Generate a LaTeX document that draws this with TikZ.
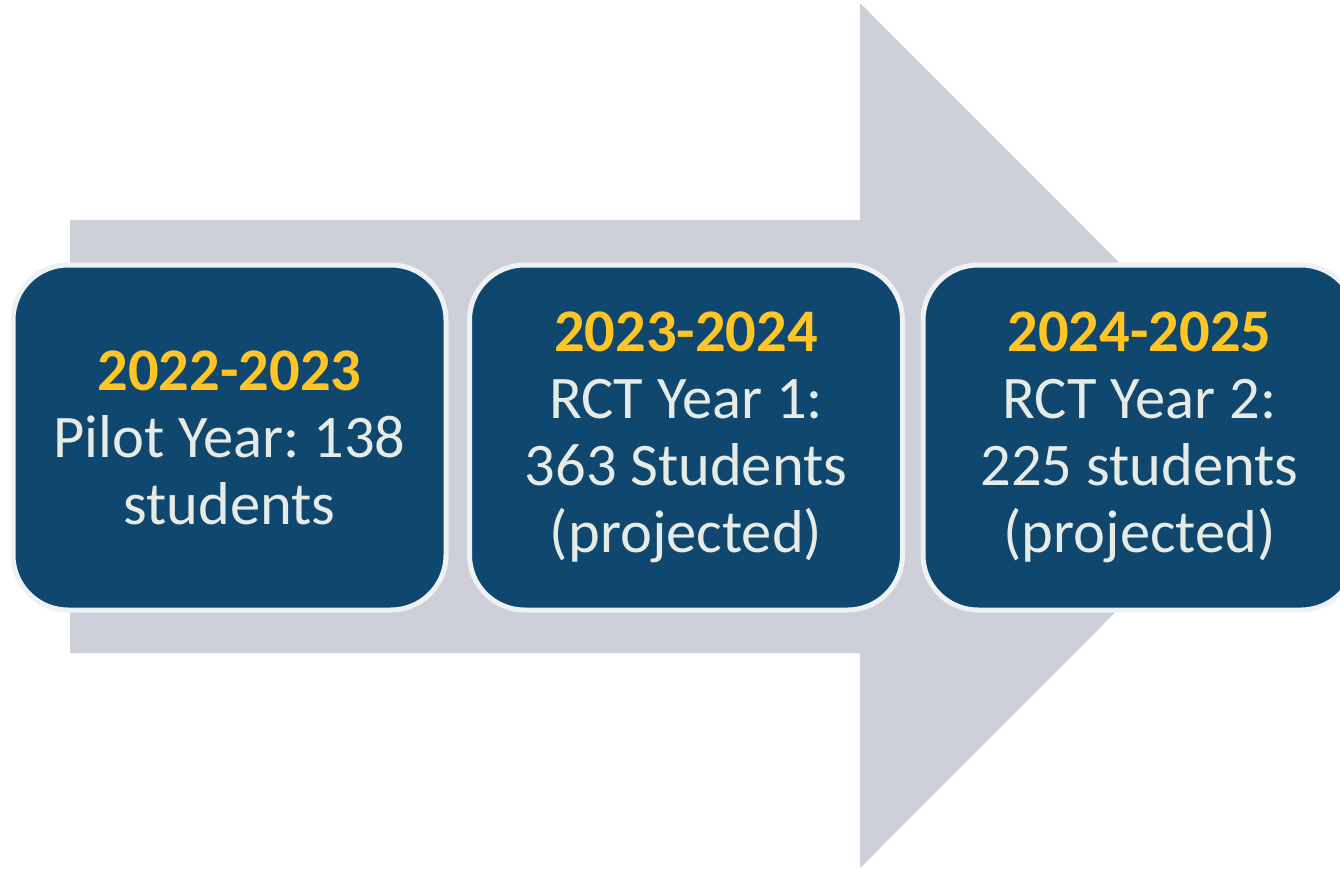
\documentclass[tikz,border=0pt]{standalone}
\usepackage{fontspec}
\setmainfont{Carlito}
\frenchspacing
\definecolor{arrowgrey}{HTML}{CDD0D8}
\definecolor{boxblue}{HTML}{0F476F}
\definecolor{boxedge}{HTML}{EEF2F3}
\definecolor{yeartext}{HTML}{FFC425}
\definecolor{bodytext}{HTML}{E6EBE6}
\begin{document}
\begin{tikzpicture}[x=1pt,y=-1pt,
  stagebox/.style={draw=boxedge, line width=5pt, fill=boxblue, rounded corners=55pt,
    minimum width=433pt, minimum height=345pt, inner sep=0pt, anchor=north west,
    align=center, text=bodytext, font=\fontsize{60.5}{67}\selectfont}]
\useasboundingbox (0,0) rectangle (1340,868);
\fill[arrowgrey] (70,220) -- (860,220) -- (860,3) -- (1292,435.5) -- (860,868) -- (860,653) -- (70,653) -- cycle;
\node[stagebox] (s1) at (10.5,262.5) {{\bfseries\color{yeartext}2022-2023}\\Pilot Year: 138\\students};
\node[stagebox] (s2) at (467,262.5) {{\bfseries\color{yeartext}2023-2024}\\RCT Year 1:\\363 Students\\(projected)};
\node[stagebox] (s3) at (920.5,262.5) {{\bfseries\color{yeartext}2024-2025}\\RCT Year 2:\\225 students\\(projected)};
\end{tikzpicture}
\end{document}
